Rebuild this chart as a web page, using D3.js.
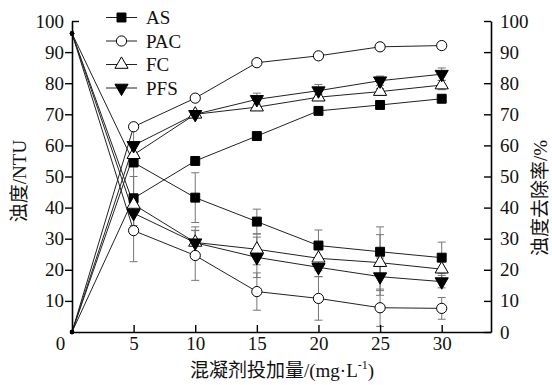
<!DOCTYPE html>
<html>
<head>
<meta charset="utf-8">
<script src="https://cdn.jsdelivr.net/npm/d3@7"></script>
<style>
body{margin:0;background:#fff}
text{font-family:"Liberation Serif","Noto Sans CJK SC",serif;fill:#111}
</style>
</head>
<body>
<div id="chart"></div>
<script>
// dosage of coagulant (mg/L)
const doses = [0, 5, 10, 15, 20, 25, 30]
const seriesNames = ["AS", "PAC", "FC", "PFS"]

// turbidity (NTU), left axis
const turbAS  = [96, 54.5, 43.2, 35.5, 27.8, 25.8, 23.9]
const turbPAC = [96, 32.6, 24.6, 13.0, 10.8, 7.8, 7.6]
const turbFC  = [96, 41.0, 28.8, 26.6, 23.7, 22.3, 20.2]
const turbPFS = [96, 38.2, 28.7, 24.0, 20.8, 17.8, 16.2]
// turbidity error
const errAS  = [0, 11, 8, 4, 5, 8, 5]
const errPAC = [0, 10, 8, 6, 7, 6, 3.5]
const errFC  = [0, 9, 5, 5, 4, 9, 3]
const errPFS = [0, 4, 4, 6.5, 3, 6, 2]

// removal rate (%), right axis
const remAS  = [0, 43, 55, 63, 71.1, 73, 75]
const remPAC = [0, 66, 75.2, 86.6, 88.8, 91.7, 92.1]
const remFC  = [0, 57, 70, 72.3, 75.5, 77.3, 79.4]
const remPFS = [0, 60, 70, 74.8, 77.6, 80.8, 82.9]
const remErrAS  = [0, 0, 0, 0, 0, 0, 0]
const remErrPAC = [0, 0, 0, 1, 1, 1, 1]
const remErrFC  = [0, 0, 0, 1, 1, 1, 1.5]
const remErrPFS = [0, 0, 1, 2, 2, 1.5, 2]

const yTicks = [0, 10, 20, 30, 40, 50, 60, 70, 80, 90, 100]
const xTicks = [0, 5, 10, 15, 20, 25, 30]

const turb = [turbAS, turbPAC, turbFC, turbPFS]
const terr = [errAS, errPAC, errFC, errPFS]
const rem = [remAS, remPAC, remFC, remPFS]
const rerr = [remErrAS, remErrPAC, remErrFC, remErrPFS]

const width = 552, height = 385
const svg = d3.select("#chart").append("svg")
    .attr("width", width)
    .attr("height", height)

const x = d3.scaleLinear().domain([0, 34]).range([72, 491])
const y = d3.scaleLinear().domain([0, 100]).range([332, 21])

// marker shapes
const symbols = [
    {type: d3.symbolSquare, size: 80, fill: "#000", rot: 0},
    {type: d3.symbolCircle, size: 82, fill: "#fff", rot: 0},
    {type: d3.symbolTriangle, size: 75, fill: "#fff", rot: 0},
    {type: d3.symbolTriangle, size: 75, fill: "#000", rot: 180}
]

function drawMarker(g, i, cx, cy){
    const s = symbols[i]
    g.append("path")
        .attr("d", d3.symbol().type(s.type).size(s.size)())
        .attr("transform", `translate(${cx},${cy}) rotate(${s.rot})`)
        .attr("fill", s.fill)
        .attr("stroke", "#000")
        .attr("stroke-width", 1)
}

const line = d3.line()
    .x(d => x(d[0]))
    .y(d => y(d[1]))

// error bars
const eb = svg.append("g").attr("stroke", "#777").attr("stroke-width", 1)
function errorBars(vals, errs){
    doses.forEach((d, j) => {
        const e = errs[j]
        if(!e) return
        const cx = x(d)
        eb.append("line").attr("x1", cx).attr("x2", cx)
            .attr("y1", y(vals[j] - e)).attr("y2", y(vals[j] + e))
        ;[vals[j] - e, vals[j] + e].forEach(v => {
            eb.append("line").attr("x1", cx - 4).attr("x2", cx + 4)
                .attr("y1", y(v)).attr("y2", y(v))
        })
    })
}
turb.forEach((t, i) => errorBars(t, terr[i]))
rem.forEach((r, i) => errorBars(r, rerr[i]))

// lines
const lg = svg.append("g")
;[...turb, ...rem].forEach(vals => {
    lg.append("path")
        .datum(doses.map((d, j) => [d, vals[j]]))
        .attr("fill", "none")
        .attr("stroke", "#222")
        .attr("stroke-width", 1)
        .attr("d", line)
})

// markers
const mg = svg.append("g")
seriesNames.forEach((n, i) => {
    doses.forEach((d, j) => {
        if(j == 0){
            mg.append("circle").attr("cx", x(d)).attr("cy", y(turb[i][j])).attr("r", 2.2)
            mg.append("circle").attr("cx", x(d)).attr("cy", y(rem[i][j])).attr("r", 2.2)
            return
        }
        drawMarker(mg, i, x(d), y(turb[i][j]))
        drawMarker(mg, i, x(d), y(rem[i][j]))
    })
})

// axes
const fs = "19px"
const leftAxis = svg.append("g")
    .attr("transform", `translate(${x(0)},0)`)
    .call(d3.axisLeft(y).tickValues(yTicks.slice(1)).tickSize(7).tickSizeOuter(0).tickPadding(1))
leftAxis.selectAll(".tick").filter(d => d == 100).select("line").attr("x2", 7)

const rightAxis = svg.append("g")
    .attr("transform", `translate(${x(34)},0)`)
    .call(d3.axisRight(y).tickValues(yTicks).tickSize(-7).tickSizeOuter(0).tickPadding(9))

const bottomAxis = svg.append("g")
    .attr("transform", `translate(0,${y(0)})`)
    .call(d3.axisBottom(x).tickValues(xTicks).tickSize(-7).tickSizeOuter(0).tickPadding(5))
bottomAxis.selectAll(".tick").filter(d => d == 0).select("line").remove()
bottomAxis.selectAll(".tick").filter(d => d == 0).select("text").attr("x", -12)

;[leftAxis, rightAxis, bottomAxis].forEach(a => {
    a.select(".domain").attr("stroke", "#000").attr("stroke-width", 1.6)
    a.selectAll(".tick line").attr("stroke", "#000").attr("stroke-width", 1.4)
    a.selectAll("text").style("font-size", fs).attr("fill", "#111")
        .style("font-family", "'Liberation Serif',serif")
})

// axis titles
const xt = svg.append("text")
    .attr("x", 282).attr("y", 377)
    .attr("text-anchor", "middle")
    .style("font-size", fs)
xt.append("tspan").text("混凝剂投加量/(mg·L")
xt.append("tspan").text("-1").style("font-size", "12px").attr("dy", -8)
xt.append("tspan").text(")").attr("dy", 8)

svg.append("text")
    .attr("transform", "translate(26,181) rotate(-90)")
    .attr("text-anchor", "middle")
    .style("font-size", fs)
    .text("浊度/NTU")

svg.append("text")
    .attr("transform", "translate(547,198) rotate(-90)")
    .attr("text-anchor", "middle")
    .style("font-size", fs)
    .text("浊度去除率/%")

// legend
const legend = svg.append("g")
seriesNames.forEach((n, i) => {
    const ly = 17.5 + i * 23.5
    legend.append("line")
        .attr("x1", 106).attr("x2", 137)
        .attr("y1", ly).attr("y2", ly)
        .attr("stroke", "#222").attr("stroke-width", 1)
    drawMarker(legend, i, 121.5, ly)
    legend.append("text")
        .attr("x", 146).attr("y", ly + 6.5)
        .style("font-size", fs)
        .text(n)
})
</script>
</body>
</html>
